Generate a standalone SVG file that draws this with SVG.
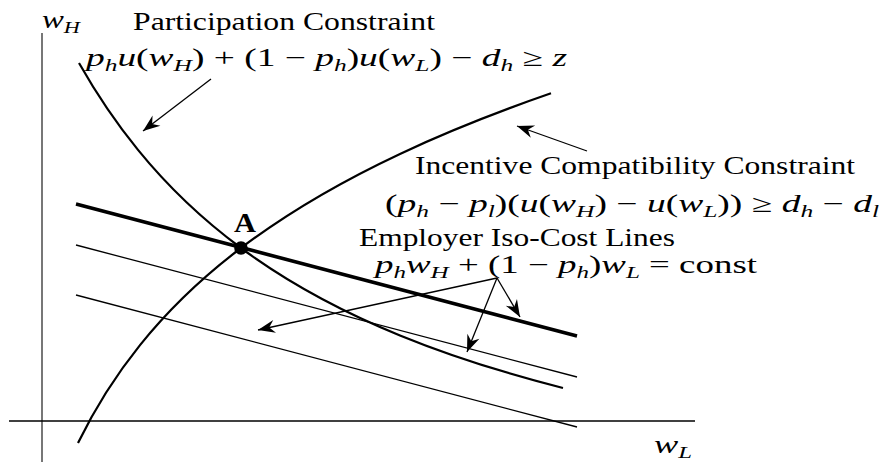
<svg xmlns="http://www.w3.org/2000/svg" width="884" height="465" viewBox="0 0 884 465">
<style>
text{font-family:"Liberation Serif","Times New Roman",serif;fill:#000}
.lbl{font-size:25px}
.m{font-size:25px}
.it{font-style:italic}
.s{font-size:17px;font-style:italic}
.curve{fill:none;stroke:#000;stroke-width:2.2}
.iso{fill:none;stroke:#000;stroke-width:1.3}
.arrow{fill:none;stroke:#000;stroke-width:1.3;marker-end:url(#arr)}
</style>
<defs>
<marker id="arr" viewBox="-19 -8 20 16" refX="0" refY="0" markerWidth="20" markerHeight="16" markerUnits="userSpaceOnUse" orient="auto">
<path d="M0,0 L-17,-6.5 L-11.5,0 L-17,6.5 Z" fill="#000"/>
</marker>
</defs>
<rect width="884" height="465" fill="#fff"/>
<g id="axes">
<line x1="42" y1="33" x2="42" y2="462" stroke="#777" stroke-width="2"/>
<line x1="9" y1="421" x2="695" y2="421" stroke="#000" stroke-width="1.5"/>
<text x="42" y="28" class="m" textLength="38" lengthAdjust="spacingAndGlyphs"><tspan class="it">w</tspan><tspan class="s" dy="5">H</tspan></text>
<text x="654" y="453" class="m" textLength="38" lengthAdjust="spacingAndGlyphs"><tspan class="it">w</tspan><tspan class="s" dy="5">L</tspan></text>
</g>
<g id="isocost-lines">
<line x1="76" y1="204" x2="577" y2="336" stroke="#000" stroke-width="3.6"/>
<line x1="76" y1="245" x2="577" y2="377" class="iso"/>
<line x1="76" y1="295" x2="577" y2="427" class="iso"/>
</g>
<g id="participation-curve">
<path class="curve" d="M79,63 C98.67,97.7 118.33,125.7 138,149.9 C172.33,192.1 206.67,222.6 241,248 C294,287.2 347,313.8 400,335.4 C454.3,357.6 508.7,374.1 563,388"/>
</g>
<g id="ic-curve">
<path class="curve" d="M78,443 C98.67,400.7 119.33,370.8 140,345.1 C173.67,303.2 207.33,273.5 241,248 C294,207.8 347,178.8 400,153.9 C450.33,130.2 500.67,110.7 551,93.3"/>
</g>
<g id="point-A">
<circle cx="241" cy="248" r="6.8"/>
<text x="234" y="232" font-size="28" font-weight="bold" textLength="22" lengthAdjust="spacingAndGlyphs">A</text>
</g>
<g id="participation-label">
<text x="133" y="30" class="lbl" textLength="302" lengthAdjust="spacingAndGlyphs">Participation Constraint</text>
<text x="86" y="66" class="m" textLength="481" lengthAdjust="spacingAndGlyphs"><tspan class="it">p</tspan><tspan class="s" dy="5">h</tspan><tspan class="it" dy="-5">u</tspan><tspan>(</tspan><tspan class="it">w</tspan><tspan class="s" dy="5">H</tspan><tspan dy="-5">) + (1 − </tspan><tspan class="it">p</tspan><tspan class="s" dy="5">h</tspan><tspan dy="-5">)</tspan><tspan class="it">u</tspan><tspan>(</tspan><tspan class="it">w</tspan><tspan class="s" dy="5">L</tspan><tspan dy="-5">) − </tspan><tspan class="it">d</tspan><tspan class="s" dy="5">h</tspan><tspan dy="-5"> ≥ </tspan><tspan class="it">z</tspan></text>
</g>
<g id="ic-label">
<text x="415" y="174" class="lbl" textLength="440" lengthAdjust="spacingAndGlyphs">Incentive Compatibility Constraint</text>
<text x="385" y="212" class="m" textLength="494" lengthAdjust="spacingAndGlyphs"><tspan>(</tspan><tspan class="it">p</tspan><tspan class="s" dy="5">h</tspan><tspan dy="-5"> − </tspan><tspan class="it">p</tspan><tspan class="s" dy="5">l</tspan><tspan dy="-5">)(</tspan><tspan class="it">u</tspan><tspan>(</tspan><tspan class="it">w</tspan><tspan class="s" dy="5">H</tspan><tspan dy="-5">) − </tspan><tspan class="it">u</tspan><tspan>(</tspan><tspan class="it">w</tspan><tspan class="s" dy="5">L</tspan><tspan dy="-5">)) ≥ </tspan><tspan class="it">d</tspan><tspan class="s" dy="5">h</tspan><tspan dy="-5"> − </tspan><tspan class="it">d</tspan><tspan class="s" dy="5">l</tspan></text>
</g>
<g id="isocost-label">
<text x="359" y="246" class="lbl" textLength="316" lengthAdjust="spacingAndGlyphs">Employer Iso-Cost Lines</text>
<text x="375" y="273" class="m" textLength="382" lengthAdjust="spacingAndGlyphs"><tspan class="it">p</tspan><tspan class="s" dy="5">h</tspan><tspan class="it" dy="-5">w</tspan><tspan class="s" dy="5">H</tspan><tspan dy="-5"> + (1 − </tspan><tspan class="it">p</tspan><tspan class="s" dy="5">h</tspan><tspan dy="-5">)</tspan><tspan class="it">w</tspan><tspan class="s" dy="5">L</tspan><tspan dy="-5"> = const</tspan></text>
</g>
<g id="connectors">
<line x1="211" y1="79" x2="143" y2="131" class="arrow"/>
<line x1="587" y1="151" x2="517" y2="126" class="arrow"/>
<line x1="497" y1="278" x2="258" y2="330" class="arrow"/>
<line x1="497" y1="278" x2="520" y2="317" class="arrow"/>
<line x1="497" y1="278" x2="467" y2="352" class="arrow"/>
</g>
</svg>
